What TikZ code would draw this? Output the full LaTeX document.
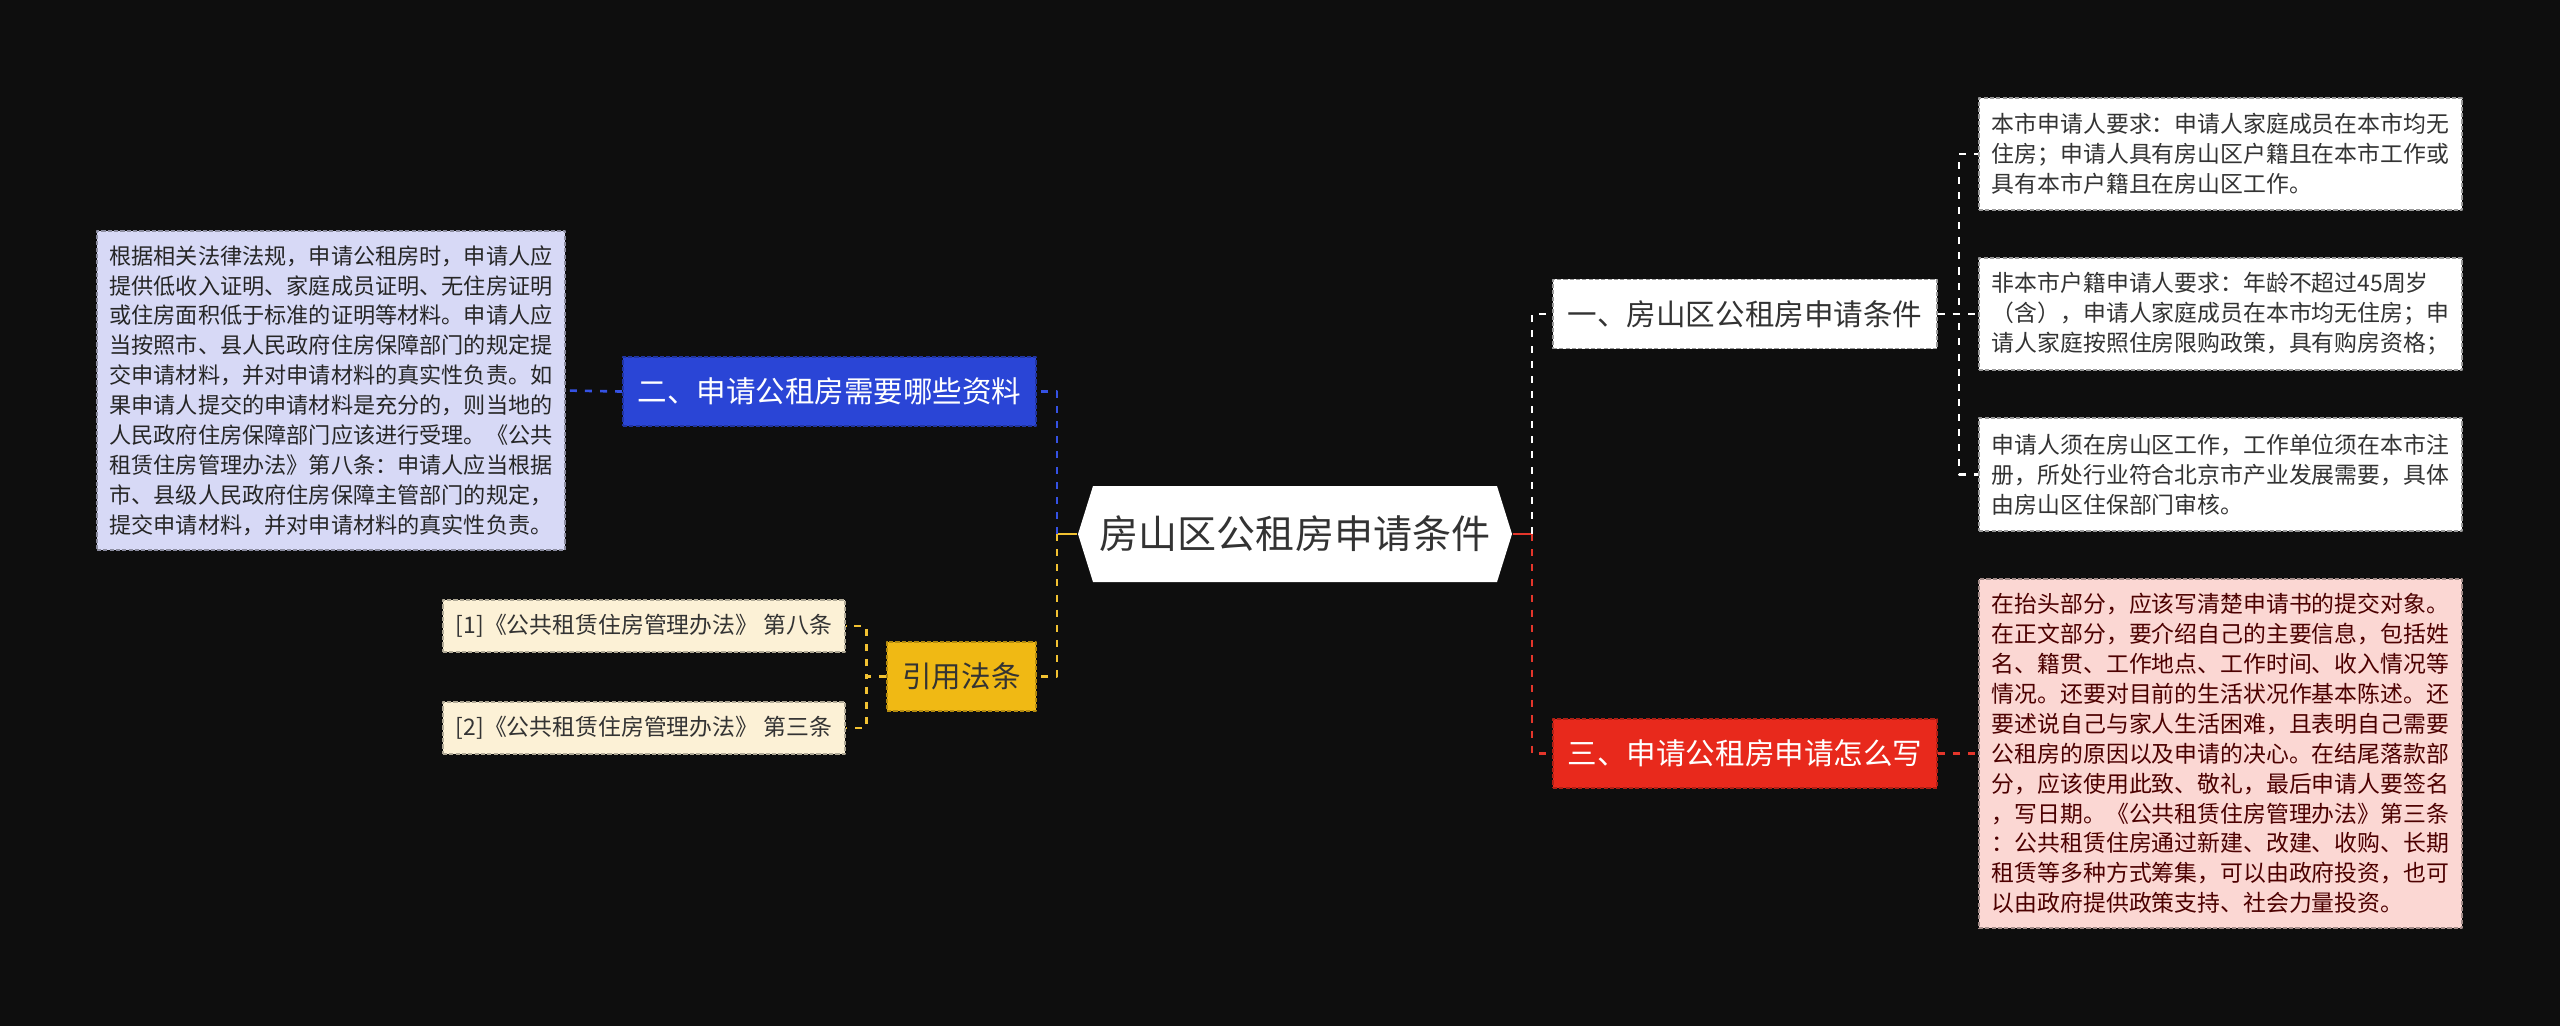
\documentclass[tikz,border=0pt]{standalone}
\usepackage{fontspec}
\setmainfont{Noto Sans CJK SC}
\usetikzlibrary{calc}
\definecolor{bgc}{HTML}{0E0E0E}
\definecolor{txt}{HTML}{333333}
\definecolor{bluef}{HTML}{2A45D6}
\definecolor{redf}{HTML}{E8291C}
\definecolor{yelf}{HTML}{F0B914}
\definecolor{lavf}{HTML}{D7D9F6}
\definecolor{pinkf}{HTML}{FBD7D3}
\definecolor{creamf}{HTML}{FCF1D6}
\definecolor{bluel}{HTML}{3552E4}
\definecolor{yell}{HTML}{F2C232}
\definecolor{redl}{HTML}{E4362B}
\begin{document}
\begin{tikzpicture}[x=0.01cm, y=-0.01cm, line join=round,
  box/.style={rectangle, inner sep=0pt, draw, dash pattern=on 1.2pt off 0.6pt, line width=0.4pt},
  branch/.style={box, font=\fontsize{8.4}{10}\selectfont, minimum width=3.84cm, minimum height=0.69cm},
  leaf/.style={box, align=left, font=\fontsize{6.5}{8.5}\selectfont, minimum width=4.83cm},
  refbox/.style={box, fill=creamf, draw=creamf!70!black, text=black!80, font=\fontsize{6.5}{8}\selectfont, minimum width=4.02cm, minimum height=0.52cm},
  link/.style={line width=0.75pt, dash pattern=on 2pt off 2.3pt}]
\useasboundingbox (0,0) rectangle (2560,1026);
\fill[bgc] (0,0) rectangle (2560,1026);

% centre
\coordinate (rc) at (1295,534);
\fill[white] ($(rc)+(-217,0)$) -- ($(rc)+(-202,-48)$) -- ($(rc)+(202,-48)$) -- ($(rc)+(217,0)$) -- ($(rc)+(202,48)$) -- ($(rc)+(-202,48)$) -- cycle;
\node[minimum width=4.34cm, minimum height=0.96cm, inner sep=0pt, text=txt, font=\fontsize{11.1}{13}\selectfont] (root) at (rc) {房山区公租房申请条件};

% left side
\node[branch, fill=bluef, draw=bluef!75!black, text=white, minimum width=4.13cm] (mat) at (829.5,391.5) {二、申请公租房需要哪些资料};
\node[branch, fill=yelf, draw=yelf!75!black, text=txt, minimum width=1.49cm] (law) at (961.5,676.5) {引用法条};
\node[box, fill=lavf, draw=lavf!65!black, text=black!85, align=left, font=\fontsize{6.3}{8.5}\selectfont, minimum width=4.68cm, minimum height=3.19cm] (matd) at (331,390.5) {根据相关法律法规，申请公租房时，申请人应\\提供低收入证明、家庭成员证明、无住房证明\\或住房面积低于标准的证明等材料。申请人应\\当按照市、县人民政府住房保障部门的规定提\\交申请材料，并对申请材料的真实性负责。如\\果申请人提交的申请材料是充分的，则当地的\\人民政府住房保障部门应该进行受理。《公共\\租赁住房管理办法》第八条：申请人应当根据\\市、县级人民政府住房保障主管部门的规定，\\提交申请材料，并对申请材料的真实性负责。};
\node[refbox] (ref1) at (644,626) {[1]《公共租赁住房管理办法》 第八条};
\node[refbox] (ref2) at (644,728) {[2]《公共租赁住房管理办法》 第三条};

% right side
\node[branch, fill=white, draw=black!40, text=txt] (cond) at (1745,314) {一、房山区公租房申请条件};
\node[branch, fill=redf, draw=redf!75!black, text=white] (write) at (1745,753.5) {三、申请公租房申请怎么写};
\node[leaf, fill=white, draw=black!40, text=txt, minimum height=1.12cm] (cond1) at (2220.5,154) {本市申请人要求：申请人家庭成员在本市均无\\住房；申请人具有房山区户籍且在本市工作或\\具有本市户籍且在房山区工作。};
\node[leaf, fill=white, draw=black!40, text=txt, minimum height=1.12cm] (cond2) at (2220.5,314) {非本市户籍申请人要求：年龄不超过45周岁\\（含），申请人家庭成员在本市均无住房；申\\请人家庭按照住房限购政策，具有购房资格；};
\node[leaf, fill=white, draw=black!40, text=txt, minimum height=1.13cm] (cond3) at (2220.5,474.5) {申请人须在房山区工作，工作单位须在本市注\\册，所处行业符合北京市产业发展需要，具体\\由房山区住保部门审核。};
\node[leaf, fill=pinkf, draw=pinkf!65!black, text=red!30!black, minimum height=3.49cm] (writed) at (2220.5,753.5) {在抬头部分，应该写清楚申请书的提交对象。\\在正文部分，要介绍自己的主要信息，包括姓\\名、籍贯、工作地点、工作时间、收入情况等\\情况。还要对目前的生活状况作基本陈述。还\\要述说自己与家人生活困难，且表明自己需要\\公租房的原因以及申请的决心。在结尾落款部\\分，应该使用此致、敬礼，最后申请人要签名\\，写日期。《公共租赁住房管理办法》第三条\\：公共租赁住房通过新建、改建、收购、长期\\租赁等多种方式筹集，可以由政府投资，也可\\以由政府提供政策支持、社会力量投资。};

% connectors
\coordinate (lj) at (1057,534);
\coordinate (rj) at (1532,534);
\draw[yell, line width=0.75pt] (root.west) -- (lj);
\draw[link, bluel] (lj) |- (mat.east);
\draw[link, yell] (lj) |- (law.east);
\draw[link, bluel] (mat.west) -- (matd.east);
\draw[link, yell] (law.west) -- ++(-20,0) |- (ref1.east);
\draw[link, yell] (law.west) -- ++(-20,0) |- (ref2.east);
\draw[redl, line width=0.75pt] (root.east) -- (rj);
\draw[link, white] (rj) |- (cond.west);
\draw[link, redl] (rj) |- (write.west);
\draw[link, white] (cond.east) -- ++(21,0) |- (cond1.west);
\draw[link, white] (cond.east) -- ++(21,0) |- (cond2.west);
\draw[link, white] (cond.east) -- ++(21,0) |- (cond3.west);
\draw[link, redl] (write.east) -- (writed.west);
\end{tikzpicture}
\end{document}
